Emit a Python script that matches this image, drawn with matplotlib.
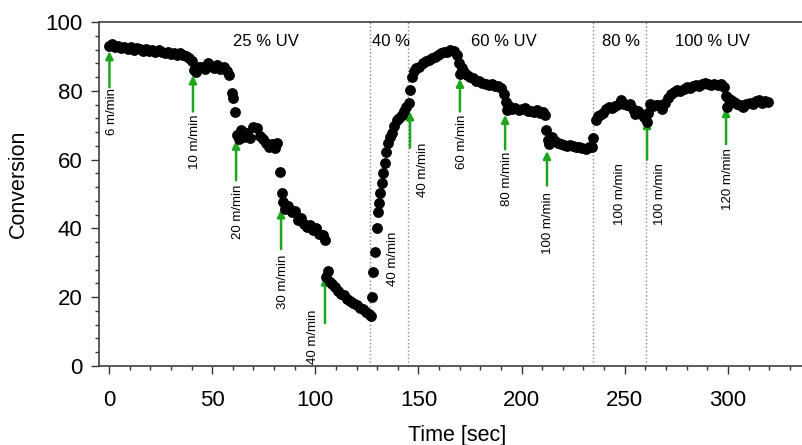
import numpy as np
import matplotlib
matplotlib.use("Agg")
import matplotlib.pyplot as plt

plt.rcParams['font.family'] = ['Liberation Sans', 'DejaVu Sans']

# --- measured conversion, split by line-speed step ---
t_6 = [0, 1.5, 3, 4.5, 6, 7.5, 9, 10.5, 12, 13.5, 15, 16.5, 18, 19.5, 21, 22.5, 24,
       25.5, 27, 28.5, 30, 31.5, 33, 34.5, 36, 37.5, 39, 40.3]
c_6 = [93.0, 93.5, 92.6, 93.0, 92.4, 92.8, 92.2, 92.6, 92.0, 92.5, 92.1, 91.7, 92.3,
       91.6, 91.9, 91.4, 91.8, 91.2, 90.9, 91.3, 90.7, 91.0, 90.5, 90.9, 90.3, 90.0,
       89.4, 88.6]

t_10 = [41.2, 42.3, 43.5, 45, 46.5, 48, 49.5, 51, 52.5, 54, 55.5, 57, 58.3, 59.4, 60.2, 61]
c_10 = [86.0, 85.5, 86.8, 87.0, 86.2, 88.0, 87.2, 86.5, 87.4, 86.3, 86.9, 85.8, 84.5,
        79.5, 77.8, 73.8]

t_20 = [62, 63, 64, 65.5, 67, 68.5, 70, 71.5, 73, 74.5, 76, 77.5, 79, 80.5, 81.5, 83]
c_20 = [67.2, 66.0, 68.5, 66.5, 67.8, 66.2, 69.6, 69.3, 66.8, 66.0, 64.8, 63.6, 64.5,
        63.3, 64.8, 56.5]

t_30 = [83.8, 84.3, 85.5, 87, 88.5, 90, 91.5, 93, 94.5, 96, 97.5, 99, 100.5, 102, 103.5, 104.5]
c_30 = [50.2, 47.8, 45.5, 46.5, 44.8, 45.0, 42.5, 43.1, 41.2, 40.3, 41.0, 39.5, 40.1,
        38.5, 38.2, 36.5]

t_40 = [105, 106, 107, 108, 109.5, 111, 112.5, 114, 115.5, 117, 118.5, 120, 121.5, 123,
        124.5, 126, 127]
c_40 = [26.0, 27.5, 24.5, 23.8, 23.0, 21.9, 21.0, 20.6, 19.5, 19.0, 18.4, 17.8, 17.0,
        16.5, 15.6, 15.2, 14.5]

t_40b = [127.5, 128.2, 129, 129.8, 130.6, 131, 131.5, 132.1, 132.8, 133.6, 134.5, 135.4,
         136.2, 137, 138.2, 139.4, 140.6, 141.8, 143, 144.2, 145.3]
c_40b = [20.2, 27.4, 33.2, 40.0, 44.9, 47.3, 50.2, 53.1, 56.0, 58.9, 62.3, 64.7, 66.5,
         67.6, 69.8, 71.5, 72.2, 73.0, 74.2, 75.4, 76.5]

t_40c = [146, 147, 148, 149, 150.5, 152, 153.5, 155, 156.5, 158, 159.5, 161, 162.5, 164,
         165.5, 167, 168.5, 169.5]
c_40c = [80.2, 84.1, 85.8, 86.5, 87.0, 88.2, 88.6, 89.0, 89.6, 89.9, 90.5, 90.9, 91.4,
         91.2, 91.9, 91.6, 90.4, 88.0]

t_60 = [170, 171, 172, 173.5, 175, 176.5, 178, 179.5, 181, 182.5, 184, 185.5, 187,
        188.5, 190, 191.5]
c_60 = [85.0, 86.5, 85.5, 84.6, 84.0, 83.6, 82.9, 83.0, 82.3, 82.0, 81.6, 81.9, 81.4,
        81.5, 80.7, 79.2]

t_80 = [192.3, 193, 194, 195.5, 197, 198.5, 200, 201.5, 203, 204.5, 206, 207.5, 209,
        210.5, 211.5, 212]
c_80 = [76.8, 74.4, 75.6, 74.8, 75.0, 74.4, 74.6, 74.9, 74.1, 74.0, 73.8, 74.3, 73.6,
        73.9, 73.0, 68.6]

t_100 = [212.8, 213.5, 214.5, 216, 217.5, 219, 220.5, 222, 223.5, 225, 226.5, 228,
         229.5, 231, 232.5, 234, 234.8]
c_100 = [65.7, 64.6, 66.7, 65.4, 64.8, 64.5, 64.2, 64.0, 64.3, 63.9, 63.7, 63.8, 63.5,
         63.2, 63.6, 63.8, 66.2]

t_100b = [236.3, 237, 238, 239.5, 241, 242.5, 244, 245.5, 247, 248, 249.5, 251, 252.5,
          254, 255, 256.5, 258, 259.5, 260.6]
c_100b = [71.5, 72.6, 73.0, 73.6, 74.8, 75.4, 74.9, 75.6, 76.3, 77.3, 76.1, 75.8, 76.3,
          74.8, 73.4, 74.0, 73.2, 72.4, 71.0]

t_100c = [261.2, 262.2, 263.5, 265, 266.5, 268, 269.5, 271, 272.5, 274, 275.5, 277,
          278.5, 280, 281.5, 283, 284.5, 286, 287.5, 289, 290.5, 292, 293.5, 295, 296.5,
          298, 299]
c_100c = [73.5, 76.3, 75.5, 76.0, 75.8, 74.6, 76.5, 77.8, 79.0, 79.6, 80.2, 79.9, 80.6,
          81.0, 80.8, 81.5, 81.7, 81.4, 82.0, 82.3, 82.0, 81.6, 82.1, 81.8, 81.9, 81.2,
          78.5]

t_120 = [299.5, 300, 301.5, 303, 304.5, 306, 307.5, 309, 310.5, 312, 313.5, 315, 316.5,
         318, 319.5]
c_120 = [75.4, 77.8, 77.2, 76.7, 76.3, 75.8, 75.4, 76.2, 76.6, 76.1, 76.9, 77.3, 76.6,
         77.1, 76.8]

time_segments = [t_6, t_10, t_20, t_30, t_40, t_40b, t_40c, t_60, t_80, t_100, t_100b, t_100c, t_120]
conv_segments = [c_6, c_10, c_20, c_30, c_40, c_40b, c_40c, c_60, c_80, c_100, c_100b, c_100c, c_120]

# UV intensity regions
uv_bounds = [126.5, 145, 234.5, 260.5]
uv_labels = ["25 % UV", "40 %", "60 % UV", "80 %", "100 % UV"]
uv_label_t = [76, 136.5, 191.5, 248, 292.5]

# speed-change arrows (time, tip value)
arrow_t = [0.2, 40.7, 61.6, 83.4, 104.7, 145.9, 170.1, 192.0, 212.3, 260.8, 299.1]
arrow_tip = [91.5, 84.5, 65.5, 45.5, 26.0, 74.0, 83.5, 73.0, 62.5, 71.5, 75.0]
arrow_len = [10.5, 10.5, 11.5, 11.5, 13.5, 10.5, 9.5, 10, 10, 11.5, 10.5]

# speed labels (text, time, anchor value, vertical alignment)
speed_text = ["6 m/min", "10 m/min", "20 m/min", "30 m/min", "40 m/min", "40 m/min",
              "40 m/min", "60 m/min", "80 m/min", "100 m/min", "100 m/min", "100 m/min",
              "120 m/min"]
speed_t = [1.5, 41.7, 62.5, 84.3, 99.0, 137.7, 152.2, 171.0, 193.0, 212.8, 247.7, 267.0, 300.0]
speed_y = [80.8, 73.0, 52.6, 32.3, 0.5, 39.0, 64.8, 73.0, 62.2, 50.6, 59.0, 59.0, 63.4]
speed_va = ["top", "top", "top", "top", "bottom", "top", "top", "top", "top", "top",
            "top", "top", "top"]

green = "#1ea51e"

fig = plt.figure(figsize=(8.03, 4.45), dpi=100)
ax = fig.add_axes([0.1233, 0.1775, 0.8767, 0.773])

for x in uv_bounds:
    ax.axvline(x, color="#8a8a8a", linestyle=":", linewidth=1.0, zorder=1)

ax.plot(np.concatenate(time_segments), np.concatenate(conv_segments), "o",
        color="black", markersize=7.8, markeredgewidth=0, zorder=3)

for t, tip, ln in zip(arrow_t, arrow_tip, arrow_len):
    ax.annotate("", xy=(t, tip), xytext=(t, tip - ln),
                arrowprops=dict(arrowstyle="-|>", color=green, lw=1.8,
                                mutation_scale=11, shrinkA=0, shrinkB=0), zorder=2)

for txt, t, y, va in zip(speed_text, speed_t, speed_y, speed_va):
    ax.text(t, y, txt, rotation=90, ha="center", va=va, fontsize=9.5)

for txt, t in zip(uv_labels, uv_label_t):
    ax.text(t, 94.2, txt, ha="center", va="center", fontsize=12)

ax.set_xlim(-4.85, 336.4)
ax.set_ylim(0, 100)
ax.set_xticks([0, 50, 100, 150, 200, 250, 300])
ax.set_xticks(np.arange(0, 340, 10), minor=True)
ax.set_yticks([0, 20, 40, 60, 80, 100])
ax.set_yticks(np.arange(0, 101, 4), minor=True)

ax.tick_params(which="major", direction="out", length=6, width=1, labelsize=16, color="#333333")
ax.tick_params(which="minor", direction="out", length=3, width=1, color="#333333")
ax.tick_params(axis="x", which="major", pad=11)
ax.tick_params(axis="y", which="major", pad=6)

ax.spines["right"].set_visible(False)
for s in ["left", "bottom", "top"]:
    ax.spines[s].set_color("#404040")
    ax.spines[s].set_linewidth(1.2)

ax.set_xlabel("Time [sec]", fontsize=15.5)
ax.set_ylabel("Conversion", fontsize=15.5)
ax.xaxis.set_label_coords(0.508, -0.172)
ax.yaxis.set_label_coords(-0.1, 0.53)

fig.savefig("out.png", dpi=100)
